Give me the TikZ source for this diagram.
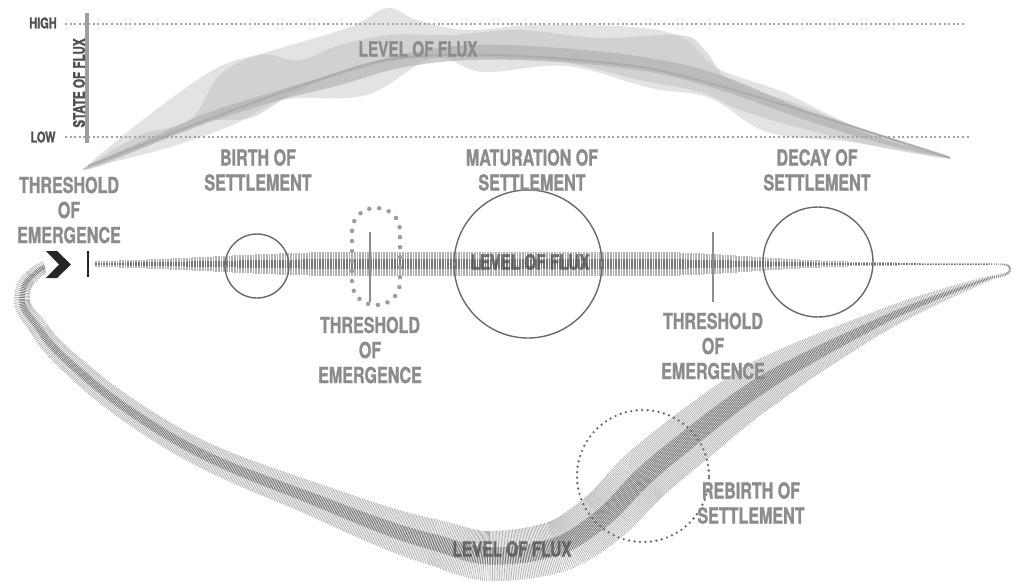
\documentclass[tikz,border=0pt]{standalone}
\usepackage{fontspec}
\newfontfamily\fluxfont{TeX Gyre Heros}[FakeStretch=0.73, FakeBold=1.2]
\definecolor{textgrey}{RGB}{140,140,140}
\definecolor{axisgrey}{RGB}{80,80,80}
\definecolor{ringgrey}{RGB}{105,105,105}
\definecolor{hatchlight}{RGB}{178,178,178}
\definecolor{hatchdark}{RGB}{118,118,118}
\definecolor{cloudlight}{RGB}{218,218,218}
\definecolor{cloudmid}{RGB}{198,198,198}
\definecolor{clouddark}{RGB}{172,172,172}

% one piece of the returning band: start, two controls, end, half widths, number of strokes
\newcommand\bandseg[7]{%
  \foreach \i in {1,...,#7}{%
    \pgfmathsetmacro\segpos{(\i-0.5)/#7}%
    \pgfmathsetmacro\segh{#5+(#6-#5)*\segpos}%
    \path #1 .. controls #2 and #3 .. #4
      node[hatchmark, pos=\segpos, minimum height=2*\segh] {}
      node[hatchcore, pos=\segpos, minimum height=0.7*\segh] {};
  }%
}

\begin{document}
\begin{tikzpicture}[x=1pt,y=-1pt,
  stagetext/.style={font=\fluxfont\bfseries\fontsize{22}{25}\selectfont, text=textgrey, align=center, inner sep=0pt},
  axistext/.style={font=\fluxfont\bfseries\fontsize{15}{17}\selectfont, text=axisgrey, inner sep=0pt},
  fluxtext/.style={font=\fluxfont\bfseries\fontsize{21}{25}\selectfont, inner sep=0pt},
  stagering/.style={circle, draw=ringgrey, line width=1.4pt, inner sep=0pt},
  gridline/.style={draw=textgrey!80, line width=2pt, dash pattern=on 2pt off 2.6pt},
  cutline/.style={draw=textgrey, line width=2.6pt},
  hatchmark/.style={rectangle, sloped, fill=hatchlight, draw=none, inner sep=0pt, minimum width=0.75pt},
  hatchcore/.style={rectangle, sloped, fill=hatchdark, draw=none, inner sep=0pt, minimum width=0.75pt},
]
\useasboundingbox (0,0) rectangle (1014,582);

\fill[cloudlight, opacity=0.75] plot[smooth cycle, tension=0.6] coordinates {(86,167) (153,112) (217,68) (267,52) (350,27) (387,8) (417,20) (467,30) (533,25) (633,27) (683,38) (717,68) (783,92) (850,124) (950,157) (850,142) (767,132) (710,98) (650,88) (567,66) (483,72) (433,58) (367,95) (283,100) (233,125) (167,148) (100,165)};
\fill[cloudmid, opacity=0.6] plot[smooth cycle, tension=0.6] coordinates {(88,166) (140,135) (190,120) (220,75) (260,55) (300,60) (340,45) (390,35) (450,35) (520,30) (600,38) (680,35) (705,50) (730,80) (800,105) (870,132) (948,158) (870,145) (800,128) (740,110) (700,92) (640,80) (560,62) (470,58) (400,60) (330,78) (290,95) (250,118) (200,122) (150,145) (100,166)};
\fill[clouddark, opacity=0.6] plot[smooth cycle, tension=0.6] coordinates {(88,166) (150,138) (210,112) (280,90) (340,72) (400,55) (470,45) (560,48) (650,58) (720,75) (800,108) (880,138) (950,158) (880,143) (800,118) (720,90) (650,72) (560,62) (470,60) (400,68) (340,85) (280,100) (210,122) (150,145) (92,167)};
\draw[clouddark, line width=2pt] plot[smooth, tension=0.6] coordinates {(88,166) (300,86) (420,56) (600,62) (720,86) (950,158)};

\coordinate (highstart) at (65,24);
\coordinate (highend) at (965,24);
\coordinate (lowstart) at (65,137);
\coordinate (lowend) at (970,137);
\draw[gridline] (highstart) -- (highend);
\draw[gridline] (lowstart) -- (lowend);
\draw[draw=textgrey!85, line width=3.5pt] (87,13) -- (87,143);

\node[axistext] (high) at (43,23) {HIGH};
\node[axistext] (low) at (43,137) {LOW};
\node[axistext, rotate=90, font=\fluxfont\bfseries\fontsize{16}{18}\selectfont] (stateflux) at (79,83) {STATE OF FLUX};
\node[fluxtext, text=textgrey] (fluxtop) at (418,49) {LEVEL OF FLUX};

\foreach \x in {95,96.6,...,992}{
  \pgfmathsetmacro\bandq{max(0,abs(\x-500)-150)/ifthenelse(\x<500,190,140)}
  \pgfmathsetmacro\bandh{1+11*exp(0-\bandq*\bandq)}
  \draw[hatchlight, line width=0.7pt] (\x,264-\bandh) -- (\x,264+\bandh);
  \draw[hatchdark, line width=0.7pt] (\x,264-0.4*\bandh) -- (\x,264+0.4*\bandh);
}

\bandseg{(988,264)}{(1000,264.6)}{(1010,263)}{(1010,269)}{1}{1.2}{14}
\bandseg{(1010,269)}{(1010,276)}{(997.6,275.4)}{(990,278)}{1.2}{2.5}{14}
\bandseg{(990,278)}{(950.4,291.9)}{(910.5,306.2)}{(873,325)}{2.5}{12}{79}
\bandseg{(873,325)}{(837.2,342.9)}{(800,360.9)}{(766,382)}{12}{24}{76}
\bandseg{(766,382)}{(743,396.2)}{(721.1,413.1)}{(700,430)}{24}{27}{51}
\bandseg{(700,430)}{(681.3,445)}{(662.8,458.9)}{(645,475)}{27}{28}{44}
\bandseg{(645,475)}{(629.4,489)}{(616.8,507.4)}{(600,520)}{28}{27}{40}
\bandseg{(600,520)}{(586,530.5)}{(571.8,542)}{(555,547)}{27}{26}{33}
\bandseg{(555,547)}{(533.9,553.3)}{(512,556)}{(490,556)}{26}{25}{41}
\bandseg{(490,556)}{(470.4,556)}{(452,546.8)}{(433,542)}{25}{23}{37}
\bandseg{(433,542)}{(387.4,530.6)}{(343.9,510.7)}{(300,494)}{23}{16}{88}
\bandseg{(300,494)}{(266.3,481.2)}{(232.2,469.1)}{(200,453)}{16}{13}{68}
\bandseg{(200,453)}{(176.8,441.4)}{(154.5,427.6)}{(133,413)}{13}{12}{49}
\bandseg{(133,413)}{(114.8,400.6)}{(96.3,386.7)}{(80,372)}{12}{11}{42}
\bandseg{(80,372)}{(65.9,359.3)}{(49.8,346.3)}{(40,330)}{11}{9.5}{36}
\bandseg{(40,330)}{(33.8,319.7)}{(22,312)}{(22,300)}{9.5}{8}{22}
\bandseg{(22,300)}{(22,292)}{(23.6,282.8)}{(30,278)}{8}{7}{15}
\bandseg{(30,278)}{(34.8,274.4)}{(39.1,268.2)}{(45,267)}{7}{6}{12}

\node[stagering, minimum size=64pt] (birthring) at (257,266) {};
\node[stagering, minimum size=148pt] (maturring) at (528,264) {};
\node[stagering, minimum size=110pt] (decayring) at (818,262) {};
\node[circle, draw=ringgrey, line width=2.6pt, dash pattern=on 0pt off 5.5pt, line cap=round, minimum size=132pt, inner sep=0pt] (rebirthring) at (643,476) {};

\draw[draw=textgrey!85, line width=4.5pt, dash pattern=on 0pt off 10pt, line cap=round, rounded corners=23pt] (352,208) rectangle (400,305);
\draw[cutline] (370,232) -- (370,302);
\draw[cutline] (713,232) -- (713,302);

\fill[black!85] (46,251) -- (57,251) -- (71,264.5) -- (57,278) -- (46,278) -- (59,264.5) -- cycle;
\draw[black!85, line width=2.6pt] (88,251) -- (88,277);

\node[fluxtext, text=axisgrey, opacity=0.75] (fluxmid) at (530,262) {LEVEL OF FLUX};
\node[fluxtext, text=axisgrey, opacity=0.75] (fluxlow) at (512,549) {LEVEL OF FLUX};

\node[stagetext] (thresholdone) at (69,210) {THRESHOLD\\OF\\EMERGENCE};
\node[stagetext] (birth) at (258,170) {BIRTH OF\\SETTLEMENT};
\node[stagetext] (maturation) at (532,170) {MATURATION OF\\SETTLEMENT};
\node[stagetext] (decay) at (817,170) {DECAY OF\\SETTLEMENT};
\node[stagetext] (thresholdtwo) at (370,350) {THRESHOLD\\OF\\EMERGENCE};
\node[stagetext] (thresholdthree) at (713,346) {THRESHOLD\\OF\\EMERGENCE};
\node[stagetext] (rebirth) at (751,503) {REBIRTH OF\\SETTLEMENT};

\end{tikzpicture}
\end{document}
